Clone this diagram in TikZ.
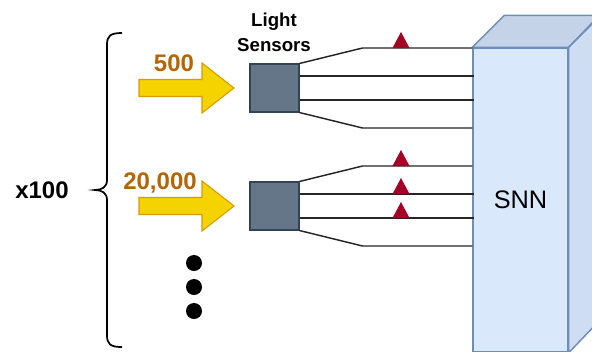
\documentclass[tikz,border=0pt]{standalone}
\usepackage{fontspec}
\setmainfont{Liberation Sans}
\usetikzlibrary{calc}

\definecolor{snnfill}{HTML}{DAE8FC}
\definecolor{snntop}{HTML}{C5D3E8}
\definecolor{snnside}{HTML}{CEDDF2}
\definecolor{snnline}{HTML}{6C8EBF}
\definecolor{sensorfill}{HTML}{647687}
\definecolor{sensorline}{HTML}{314354}
\definecolor{spikecol}{HTML}{A20025}
\definecolor{arrowfill}{HTML}{F5D300}
\definecolor{arrowline}{HTML}{D79B00}
\definecolor{countcol}{HTML}{B46504}

\tikzset{
    sensor/.style={draw=sensorline, fill=sensorfill, line width=0.8pt, minimum width=36.75pt, minimum height=36pt, inner sep=0pt},
    snnface/.style={draw=snnline, fill=snnfill, line width=1.1pt, minimum width=71.25pt, minimum height=228pt, inner sep=0pt, font=\fontsize{19}{22}\selectfont},
    wire/.style={draw=black!85, line width=1.1pt},
    spike/.style={fill=spikecol},
    inarrow/.style={fill=arrowfill, draw=arrowline, line width=0.8pt, line join=miter},
    count/.style={text=countcol, font=\bfseries\fontsize{18}{20}\selectfont, inner sep=0pt},
}

\begin{document}
\begin{tikzpicture}[x=0.75pt,y=-0.75pt]
    \useasboundingbox (0,0) rectangle (592,351);

    %SNN block
    \node[snnface] (snn) at (520.5,200) {SNN};
    \filldraw[fill=snntop, draw=snnline, line width=1.1pt, line join=round] (snn.north west) -- ++(32,-32) -- ++(95,0) -- (snn.north east) -- cycle;
    \filldraw[fill=snnside, draw=snnline, line width=1.1pt, line join=round] (snn.north east) -- ++(32,-32) -- ++(0,304) -- (snn.south east) -- cycle;

    %sensors
    \node[sensor] (s1) at (274.5,88) {};
    \node[sensor] (s2) at (274.5,206) {};
    \node[font=\bfseries\fontsize{14}{18.75}\selectfont, align=center, inner sep=0pt] (title) at (274,32) {Light\\Sensors};

    %wires of the first sensor
    \coordinate (k1) at ($(s1.east)+(63,-40)$);
    \coordinate (k2) at ($(s1.east)+(63,40)$);
    \draw[wire] (s1.north east) -- (k1) -- (k1 -| snn.west);
    \draw[wire] ($(s1.east)+(0,-12)$) -- ($(s1.east)+(174,-12)$);
    \draw[wire] ($(s1.east)+(0,12)$) -- ($(s1.east)+(174,12)$);
    \draw[wire] (s1.south east) -- (k2) -- (k2 -| snn.west);

    %wires of the second sensor
    \coordinate (k3) at ($(s2.east)+(63,-40)$);
    \coordinate (k4) at ($(s2.east)+(63,40)$);
    \draw[wire] (s2.north east) -- (k3) -- (k3 -| snn.west);
    \draw[wire] ($(s2.east)+(0,-12)$) -- ($(s2.east)+(174,-12)$);
    \draw[wire] ($(s2.east)+(0,12)$) -- ($(s2.east)+(174,12)$);
    \draw[wire] (s2.south east) -- (k4) -- (k4 -| snn.west);

    %spikes
    \fill[spike] (392.5,48) -- (401,32) -- (409.5,48) -- cycle;
    \fill[spike] (392.5,166) -- (401,150) -- (409.5,166) -- cycle;
    \fill[spike] (392.5,194) -- (401,178) -- (409.5,194) -- cycle;
    \fill[spike] (392.5,218) -- (401,202) -- (409.5,218) -- cycle;

    %light input
    \filldraw[inarrow] (139,79.5) -- (202,79.5) -- (202,63) -- (234,88) -- (202,113) -- (202,96.5) -- (139,96.5) -- cycle;
    \filldraw[inarrow, shift={(0,118)}] (139,79.5) -- (202,79.5) -- (202,63) -- (234,88) -- (202,113) -- (202,96.5) -- (139,96.5) -- cycle;
    \node[count] (c1) at (174,63) {500};
    \node[count] (c2) at (160,183) {20,000};

    %more sensors
    \fill (194,263) circle [radius=6pt];
    \fill (194,287) circle [radius=6pt];
    \fill (194,311) circle [radius=6pt];

    %brace
    \draw[line width=1.3pt] (122,33) .. controls (110,33) and (107,36) .. (107,45) -- (107,180) .. controls (107,187) and (102,190) .. (95,190) .. controls (102,190) and (107,193) .. (107,200) -- (107,335) .. controls (107,344) and (110,347) .. (122,347);
    \node[font=\bfseries\fontsize{18}{20}\selectfont, inner sep=0pt] (times) at (42,190) {x100};

\end{tikzpicture}
\end{document}
